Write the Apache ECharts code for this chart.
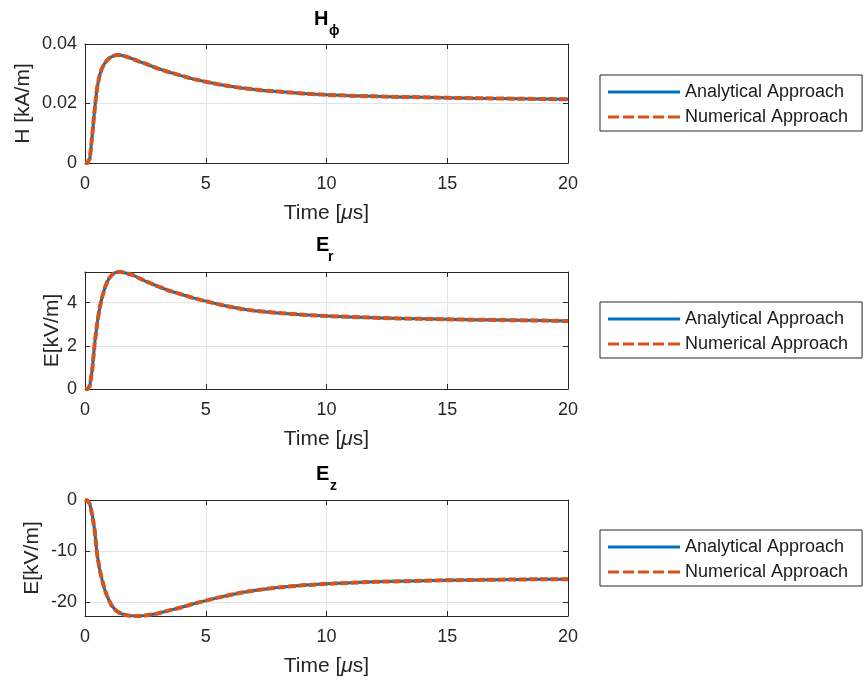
<!DOCTYPE html>
<html>
<head>
<meta charset="utf-8">
<script src="https://cdn.jsdelivr.net/npm/echarts@6/dist/echarts.min.js"></script>
<style>html,body{margin:0;padding:0;background:#fff;}#c{width:864px;height:681px;}</style>
</head>
<body>
<div id="c"></div>
<script>
// ---- data ----
const time = [0, 0.1, 0.2, 0.3, 0.4, 0.5, 0.6, 0.7, 0.8, 0.9, 1.0, 1.1, 1.2, 1.3, 1.4, 1.5, 1.6, 1.8, 2.0, 2.25, 2.5, 2.75, 3.0, 3.5, 4, 4.5, 5, 5.5, 6, 6.5, 7, 7.5, 8, 9, 10, 11, 12, 13, 14, 15, 16, 17, 18, 19, 20];
const hPhi = [0, 0, 0.0015, 0.0093, 0.0180, 0.0252, 0.0293, 0.0318, 0.0333, 0.0344, 0.0352, 0.0357, 0.0361, 0.0363, 0.0363, 0.0362, 0.0360, 0.0355, 0.0349, 0.0341, 0.0334, 0.0326, 0.0318, 0.0305, 0.0293, 0.0282, 0.0273, 0.0265, 0.0258, 0.0252, 0.0247, 0.0243, 0.0240, 0.0234, 0.0229, 0.0226, 0.0224, 0.0222, 0.0221, 0.0219, 0.0218, 0.0217, 0.0216, 0.0215, 0.0214];
const eR = [0, 0, 0.15, 0.9, 2.1, 3.0, 3.72, 4.22, 4.6, 4.92, 5.13, 5.27, 5.36, 5.41, 5.42, 5.42, 5.40, 5.34, 5.27, 5.13, 5.0, 4.88, 4.76, 4.55, 4.38, 4.21, 4.07, 3.93, 3.81, 3.71, 3.63, 3.57, 3.52, 3.44, 3.38, 3.34, 3.30, 3.27, 3.25, 3.23, 3.21, 3.20, 3.18, 3.17, 3.15];
const eZ = [0, -0.1, -0.8, -2.9, -5.9, -10.6, -13.4, -15.5, -17.3, -18.6, -19.7, -20.6, -21.2, -21.7, -22.0, -22.25, -22.4, -22.6, -22.7, -22.7, -22.6, -22.4, -22.2, -21.6, -21.0, -20.3, -19.7, -19.1, -18.6, -18.1, -17.7, -17.4, -17.1, -16.7, -16.4, -16.2, -16.0, -15.9, -15.8, -15.7, -15.65, -15.6, -15.55, -15.5, -15.5];
const xTicks = [0, 5, 10, 15, 20];
const hTicks = [0, 0.02, 0.04];
const erTicks = [0, 2, 4];
const ezTicks = [-20, -10, 0];
const seriesNames = ['Analytical Approach', 'Numerical Approach'];
const yLabels = ['H [kA/m]', 'E[kV/m]', 'E[kV/m]'];
const titles = [['H', 'ϕ'], ['E', 'r'], ['E', 'z']];

// ---- layout ----
const FONT = '"Liberation Sans", Arial, Helvetica, sans-serif';
const AX = '#262626';
const GRIDC = '#e3e3e3';
const BLUE = '#0072BD';
const ORANGE = '#D95319';
const grids = [
  {left: 85, top: 44, width: 483, height: 119},
  {left: 85, top: 272, width: 483, height: 117},
  {left: 85, top: 500, width: 483, height: 116}
];
const yRanges = [[0, 0.04, hTicks], [0, 5.42, erTicks], [-22.7, 0, ezTicks]];
const nameGaps = [51, 22, 42];

const xAxes = [], yAxes = [], series = [], legends = [], graphics = [];
grids.forEach((g, i) => {
  g.outerBoundsMode = 'none';
  g.containLabel = false;
  ['bottom', 'top'].forEach(pos => {
    const main = pos === 'bottom';
    xAxes.push({
      type: 'value', gridIndex: i, position: pos, min: 0, max: 20,
      axisLine: {show: true, onZero: false, lineStyle: {color: AX, width: 1}},
      axisTick: {show: true, inside: true, length: 5, customValues: xTicks, lineStyle: {color: AX}},
      axisLabel: {show: main, customValues: xTicks, margin: 12, color: AX, fontSize: 18, fontFamily: FONT, showMinLabel: true, showMaxLabel: true},
      splitLine: {show: main, lineStyle: {color: GRIDC, width: 1}},
      name: main ? 'Time [{m|μ}s]' : '', nameLocation: 'middle', nameGap: 40, nameMoveOverlap: false,
      nameTextStyle: {color: AX, fontSize: 21, fontFamily: FONT, rich: {m: {fontStyle: 'italic', fontSize: 21, fontFamily: FONT, color: AX}}}
    });
  });
  const [mn, mx, tk] = yRanges[i];
  ['left', 'right'].forEach(pos => {
    const main = pos === 'left';
    yAxes.push({
      type: 'value', gridIndex: i, position: pos, min: mn, max: mx,
      axisLine: {show: true, onZero: false, lineStyle: {color: AX, width: 1}},
      axisTick: {show: true, inside: true, length: 5, customValues: tk, lineStyle: {color: AX}},
      axisLabel: {show: main, customValues: tk, margin: 8, color: AX, fontSize: 18, fontFamily: FONT, showMinLabel: true, showMaxLabel: true},
      splitLine: {show: main, lineStyle: {color: GRIDC, width: 1}},
      name: main ? yLabels[i] : '', nameLocation: 'middle', nameGap: nameGaps[i], nameMoveOverlap: false,
      nameTextStyle: {color: AX, fontSize: 21, fontFamily: FONT}
    });
  });
});

const dataSets = [hPhi, eR, eZ];
dataSets.forEach((vals, i) => {
  const pts = time.map((t, k) => [t, vals[k]]);
  series.push({
    name: seriesNames[0], type: 'line', xAxisIndex: 2 * i, yAxisIndex: 2 * i,
    data: pts, showSymbol: false, symbol: 'none', smooth: false,
    lineStyle: {color: BLUE, width: 3, join: 'round'}, itemStyle: {color: BLUE}, z: 2, animation: false
  });
  series.push({
    name: seriesNames[1], type: 'line', xAxisIndex: 2 * i, yAxisIndex: 2 * i,
    data: pts, showSymbol: false, symbol: 'none', smooth: false,
    lineStyle: {color: ORANGE, width: 4, type: [8, 2.5], join: 'round'}, itemStyle: {color: ORANGE}, z: 3, animation: false
  });
});

const solidIcon = 'path://M0,0h72v3h-72z';
const dashIcon = 'path://M0,0h11v3h-11z M15,0h11v3h-11z M30,0h11v3h-11z M45,0h11v3h-11z M60,0h12v3h-12z';
const legendTops = [75, 302, 530];
legendTops.forEach(t => {
  legends.push({
    orient: 'vertical', left: 600, top: t, padding: [8, 14, 5, 8],
    itemWidth: 72, itemHeight: 3, itemGap: 7,
    borderColor: AX, borderWidth: 1, backgroundColor: '#fff',
    textStyle: {fontSize: 18, color: '#1a1a1a', fontFamily: FONT},
    data: [{name: seriesNames[0], icon: solidIcon}, {name: seriesNames[1], icon: dashIcon}],
    selectedMode: false
  });
});

const titlePos = [[314, 19, 329, 31], [316, 245, 328, 257], [316, 474, 330, 486]];
titles.forEach((tt, i) => {
  const p = titlePos[i];
  graphics.push({type: 'text', x: p[0], y: p[1], style: {text: tt[0], font: 'bold 20px ' + FONT, fill: '#000', align: 'left', verticalAlign: 'middle'}});
  graphics.push({type: 'text', x: p[2], y: p[3], style: {text: tt[1], font: 'bold 14px ' + FONT, fill: '#000', align: 'left', verticalAlign: 'middle'}});
});

const chart = echarts.init(document.getElementById('c'), null, {renderer: 'canvas'});
chart.setOption({
  animation: false,
  backgroundColor: '#fff',
  grid: grids,
  xAxis: xAxes,
  yAxis: yAxes,
  legend: legends,
  series: series,
  graphic: graphics
});
</script>
</body>
</html>
